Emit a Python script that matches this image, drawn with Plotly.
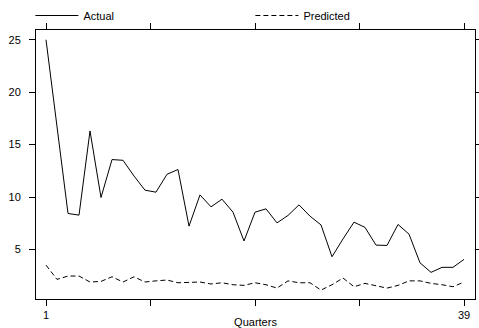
import plotly.graph_objects as go

quarters = list(range(1, 40))
actual = [25.0, 16.7, 8.43, 8.27, 16.3, 9.95, 13.57, 13.5, 12.0, 10.65,
          10.46, 12.17, 12.62, 7.22, 10.2, 9.06, 9.79, 8.55, 5.8, 8.55,
          8.87, 7.53, 8.24, 9.25, 8.17, 7.34, 4.3, 6.0, 7.6, 7.1,
          5.41, 5.38, 7.38, 6.46, 3.72, 2.81, 3.29, 3.29, 4.05]
predicted = [3.5, 2.14, 2.46, 2.46, 1.89, 1.95, 2.39, 1.89, 2.39, 1.89,
             2.0, 2.08, 1.82, 1.89, 1.89, 1.7, 1.82, 1.63, 1.57, 1.82,
             1.63, 1.31, 2.0, 1.82, 1.82, 1.12, 1.63, 2.27, 1.44, 1.76,
             1.57, 1.31, 1.57, 2.0, 2.0, 1.76, 1.63, 1.44, 1.89]

x_tickvals = [1, 10.5, 20, 29.5, 39]
x_ticktext = ["1", "", "", "", "39"]
y_tickvals = [5, 10, 15, 20, 25]

FONT = "Liberation Sans, Arial, sans-serif"

fig = go.Figure()
fig.add_trace(go.Scatter(x=quarters, y=actual, mode="lines", name="Actual",
                         line=dict(color="black", width=1)))
fig.add_trace(go.Scatter(x=quarters, y=predicted, mode="lines", name="Predicted",
                         line=dict(color="black", width=1, dash="5px,3px")))

fig.update_layout(
    width=479, height=328,
    margin=dict(l=36, r=4, t=30, b=29, autoexpand=False),
    paper_bgcolor="white", plot_bgcolor="white",
    font=dict(family=FONT, size=11, color="black"),
    showlegend=True,
    legend=dict(orientation="h", x=-0.0128, y=1.0, xanchor="left", yanchor="bottom",
                entrywidth=162, entrywidthmode="pixels",
                font=dict(size=11), bgcolor="rgba(0,0,0,0)",
                tracegroupgap=0, itemwidth=43),
    xaxis=dict(range=[0.09, 40], tickvals=x_tickvals, ticktext=x_ticktext,
               showgrid=False, zeroline=False, showline=True, linecolor="black",
               linewidth=1, mirror="allticks", ticks="outside", ticklen=6,
               tickcolor="black", title=dict(text="Quarters", standoff=0,
                                            font=dict(size=11))),
    yaxis=dict(range=[0.27, 25.93], tickvals=y_tickvals,
               showgrid=False, zeroline=False, showline=True, linecolor="black",
               linewidth=1, mirror="allticks", ticks="outside", ticklen=6,
               tickcolor="black", tickangle=0, ticklabelstandoff=6),
)

fig.write_html("out.html")
